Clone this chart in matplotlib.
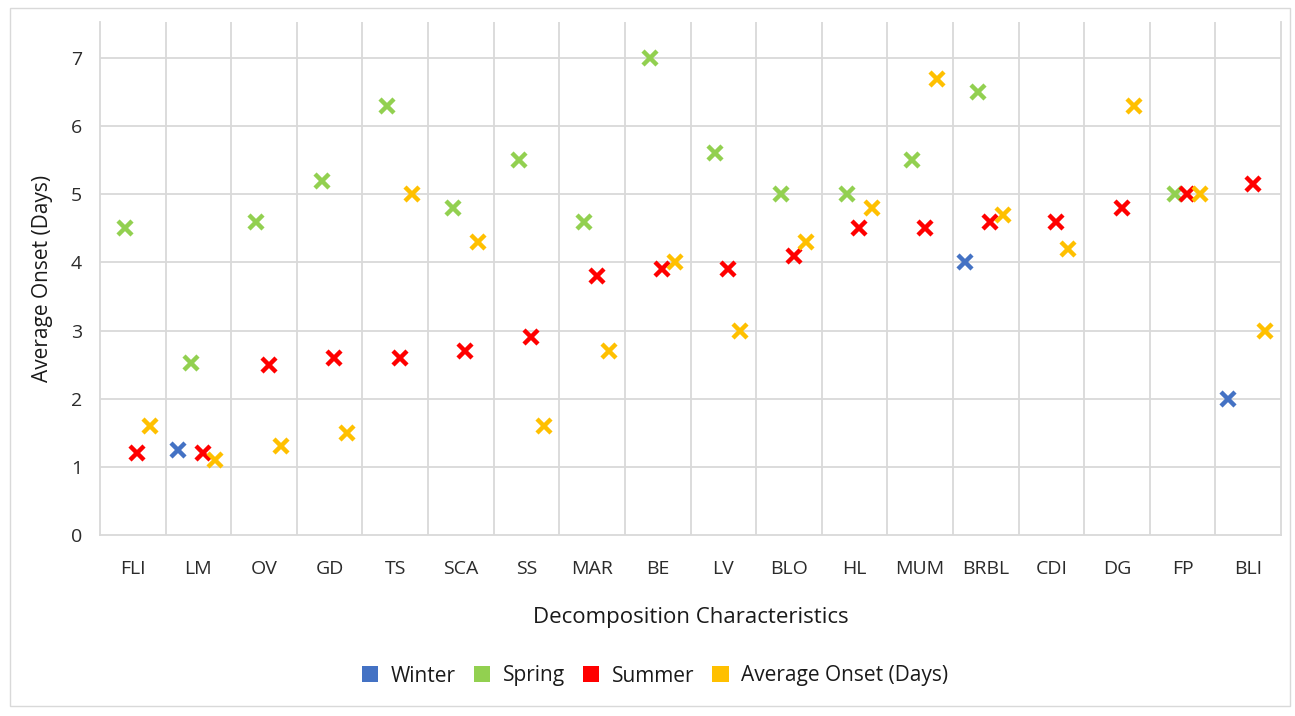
import matplotlib
matplotlib.use("Agg")
import matplotlib.pyplot as plt
import numpy as np
from matplotlib.patches import Patch, Rectangle

plt.rcParams['font.family'] = ['Open Sans', 'DejaVu Sans']

categories = ["FLI", "LM", "OV", "GD", "TS", "SCA", "SS", "MAR", "BE", "LV",
              "BLO", "HL", "MUM", "BRBL", "CDI", "DG", "FP", "BLI"]
nan = np.nan
winter = [nan, 1.25, nan, nan, nan, nan, nan, nan, nan, nan,
          nan, nan, nan, 4.0, nan, nan, nan, 2.0]
spring = [4.5, 2.53, 4.6, 5.2, 6.3, 4.8, 5.5, 4.6, 7.0, 5.6,
          5.0, 5.0, 5.5, 6.5, nan, nan, 5.0, nan]
summer = [1.2, 1.2, 2.5, 2.6, 2.6, 2.7, 2.9, 3.8, 3.9, 3.9,
          4.1, 4.5, 4.5, 4.6, 4.6, 4.8, 5.0, 5.15]
average = [1.6, 1.1, 1.3, 1.5, 5.0, 4.3, 1.6, 2.7, 4.0, 3.0,
           4.3, 4.8, 6.7, 4.7, 4.2, 6.3, 5.0, 3.0]

series = [("Winter", winter, "#4472C4"),
          ("Spring", spring, "#92D050"),
          ("Summer", summer, "#FF0000"),
          ("Average Onset (Days)", average, "#FFC000")]
offsets = [-0.31, -0.12, 0.07, 0.26]

fig = plt.figure(figsize=(12.95, 7.16), dpi=100)
ax = fig.add_axes([100/1295, 1-535/716, 1181/1295, 513/716])

x = np.arange(len(categories))
for (name, vals, col), off in zip(series, offsets):
    ax.plot(x + off, vals, linestyle='none', marker='x', color=col,
            markersize=10, markeredgewidth=3.2, zorder=3)

grid_col = "#D9D9D9"
ax.set_xlim(-0.5, len(categories) - 0.5)
ax.set_ylim(0, 7.53)
ax.set_yticks(range(0, 8))
ax.set_xticks(x)
ax.set_xticklabels(categories)
for yv in range(1, 8):
    ax.axhline(yv, color=grid_col, lw=1.3, zorder=1)
for xv in np.arange(0.5, len(categories) - 0.5, 1):
    ax.axvline(xv, color=grid_col, lw=1.3, zorder=1)
ax.spines["top"].set_visible(False)
for side in ["left", "bottom", "right"]:
    ax.spines[side].set_color(grid_col)
    ax.spines[side].set_linewidth(1.3)
ax.tick_params(axis='both', length=0, labelsize=14, colors="#2b2b2b")
ax.tick_params(axis='x', pad=18)
ax.tick_params(axis='y', pad=13)
ax.set_xlabel("Decomposition Characteristics", fontsize=16, color="#1a1a1a", labelpad=21)
ax.set_ylabel("Average Onset (Days)", fontsize=15, color="#1a1a1a", labelpad=13)

handles = [Patch(facecolor=col, edgecolor='none', label=name) for name, _, col in series]
fig.legend(handles=handles, loc='center', bbox_to_anchor=(655/1295, 1-676/716), ncol=4,
           frameon=False, fontsize=15, handlelength=0.8, handleheight=0.8,
           handletextpad=0.6, columnspacing=0.85, labelcolor="#1a1a1a")

fig.patches.append(Rectangle((10/1295, 1-706/716), 1280/1295, 698/716,
                             transform=fig.transFigure, fill=False,
                             edgecolor="#D9D9D9", lw=1.0))

fig.savefig("out.png", dpi=100, facecolor="white")
